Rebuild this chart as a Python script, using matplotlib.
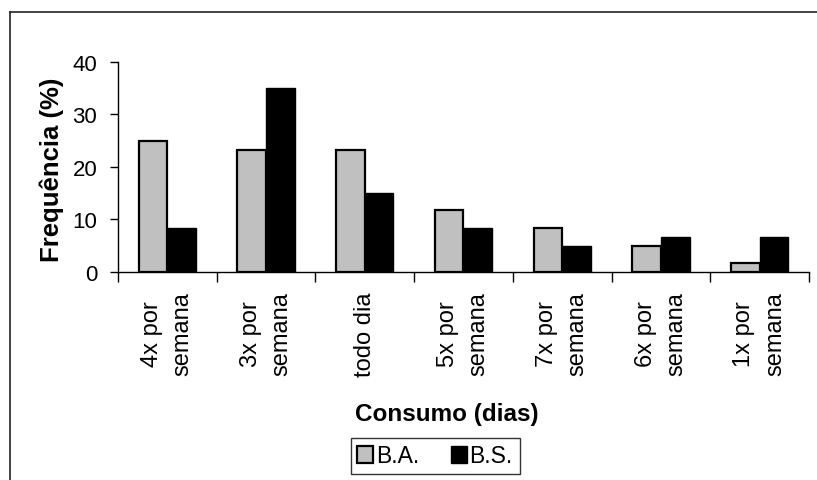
import matplotlib
matplotlib.use("Agg")
import matplotlib.pyplot as plt
from matplotlib.lines import Line2D
from matplotlib.patches import Patch
import numpy as np

categories = ["4x por\nsemana", "3x por\nsemana", "todo dia", "5x por\nsemana",
              "7x por\nsemana", "6x por\nsemana", "1x por\nsemana"]
ba_values = [25.0, 23.3, 23.3, 11.7, 8.3, 5.0, 1.7]
bs_values = [8.3, 35.0, 15.0, 8.3, 5.0, 6.7, 6.7]
y_ticks = [0, 10, 20, 30, 40]
series_names = ["B.A.", "B.S."]

plt.rcParams['font.family'] = ['Liberation Sans', 'DejaVu Sans']

W, H = 817, 481
fig = plt.figure(figsize=(W / 100, H / 100), dpi=100)
ax = fig.add_axes([118 / W, 1 - 273 / H, (809 - 118) / W, (273 - 62.7) / H])

x = np.arange(len(categories))
bw = 0.29
ax.bar(x - bw / 2, ba_values, bw, color="#c0c0c0", edgecolor="black", linewidth=1.6, zorder=3)
ax.bar(x + bw / 2, bs_values, bw, color="black", edgecolor="black", linewidth=1.0, zorder=3)

ax.set_xlim(-0.5, len(categories) - 0.5)
ax.set_ylim(0, 40)
ax.set_yticks(y_ticks)
ax.set_yticklabels([str(t) for t in y_ticks], fontsize=16)
ax.tick_params(axis='y', direction='out', length=6, width=1, pad=9)

ax.set_xticks(np.arange(-0.5, len(categories)), minor=False)
ax.set_xticklabels([])
ax.tick_params(axis='x', which='major', direction='out', length=7, width=1)
ax.set_xticks(x, minor=True)
ax.set_xticklabels(categories, minor=True, rotation=90, fontsize=17,
                   ha='center', va='top', multialignment='center', linespacing=1.5)
ax.tick_params(axis='x', which='minor', length=0, pad=14)

for s in ['top', 'right']:
    ax.spines[s].set_visible(False)
ax.spines['left'].set_linewidth(1)
ax.spines['bottom'].set_linewidth(1)

fig.text(52 / W, 1 - 170 / H, "Frequência (%)", rotation=90, fontsize=18.5,
         fontweight='bold', ha='center', va='center')
fig.text(447 / W, 1 - 414 / H, "Consumo (dias)", fontsize=17.5,
         fontweight='bold', ha='center', va='center')

handles = [Patch(facecolor="#c0c0c0", edgecolor="black", linewidth=1.6),
           Patch(facecolor="black", edgecolor="black")]
leg = fig.legend(handles, series_names, loc='center', bbox_to_anchor=(435 / W, 1 - 457 / H),
                 ncol=2, fontsize=16.5, frameon=True, fancybox=False, edgecolor='black',
                 handlelength=0.7, handleheight=0.7, handletextpad=0.1,
                 columnspacing=1.4, borderpad=0.3, borderaxespad=0)
leg.get_frame().set_linewidth(1.0)

fig.add_artist(Line2D([9.5 / W, 1.0], [1 - 13 / H, 1 - 13 / H], color='#222222', linewidth=1.2,
                      transform=fig.transFigure))
fig.add_artist(Line2D([9.5 / W, 9.5 / W], [1 - 13 / H, 0.0], color='#222222', linewidth=1.2,
                      transform=fig.transFigure))

fig.savefig("out.png", dpi=100)
